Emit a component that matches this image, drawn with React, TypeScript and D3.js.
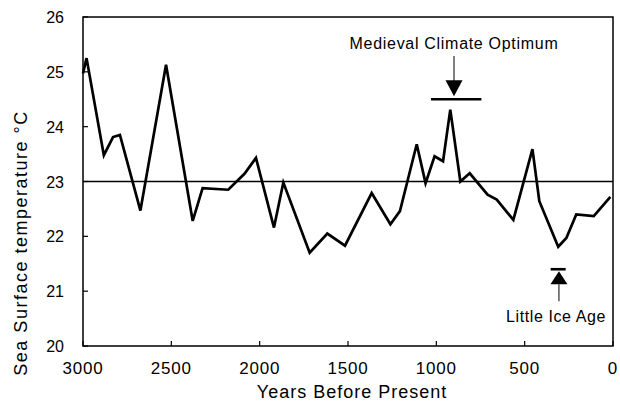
import React from "react";
import * as d3 from "d3";

const years = [3000, 2980, 2882, 2830, 2791, 2675, 2530, 2379, 2323, 2178, 2086, 2021, 1919, 1866, 1717, 1617, 1517, 1366, 1260, 1206, 1111, 1061, 1010, 962, 921, 864, 811, 710, 658, 564, 456, 417, 310, 264, 208, 109, 15];
const temps = [24.97, 25.25, 23.48, 23.81, 23.85, 22.47, 25.13, 22.28, 22.88, 22.85, 23.14, 23.43, 22.16, 22.98, 21.7, 22.05, 21.83, 22.79, 22.22, 22.46, 23.68, 22.97, 23.46, 23.37, 24.31, 23.0, 23.15, 22.76, 22.67, 22.3, 23.59, 22.64, 21.81, 21.97, 22.4, 22.37, 22.72];
const xTicks = [3000, 2500, 2000, 1500, 1000, 500, 0];
const yTicks = [20, 21, 22, 23, 24, 25, 26];
const meanTemp = 23;
const medieval = { label: "Medieval Climate Optimum", from: 1030, to: 745, temp: 24.5, at: 900 };
const littleIceAge = { label: "Little Ice Age", from: 353, to: 268, temp: 21.4, at: 306 };

const FONT = "Arial, 'Liberation Sans', Helvetica, sans-serif";

export default function App() {
  const x = d3.scaleLinear().domain([3000, 0]).range([83, 613]);
  const y = d3.scaleLinear().domain([20, 26]).range([346, 17]);
  const line = d3
    .line<number>()
    .x((_, i) => x(years[i]))
    .y((d) => y(d));
  const [x0, x1] = x.range();
  const [yb, yt] = y.range();

  const mx = x(medieval.at);
  const my = y(medieval.temp);
  const lx = x(littleIceAge.at);
  const ly = y(littleIceAge.temp);

  return (
    <svg width={620} height={409} style={{ position: "absolute", left: 0, top: 0, background: "#fff" }} fontFamily={FONT}>
      <rect x={0} y={0} width={620} height={409} fill="#fff" />
      {/* frame */}
      <rect x={x0} y={yt} width={x1 - x0} height={yb - yt} fill="none" stroke="#000" strokeWidth={1.5} />
      {/* mean line */}
      <line x1={x0} x2={x1} y1={y(meanTemp)} y2={y(meanTemp)} stroke="#000" strokeWidth={1.6} />
      {/* y ticks */}
      {yTicks.map((t) => (
        <g key={"y" + t}>
          <line x1={x0} x2={x0 + 5} y1={y(t)} y2={y(t)} stroke="#000" strokeWidth={1.2} />
          <text x={64} y={y(t) + 6} textAnchor="end" fontSize={16} fill="#000">
            {t}
          </text>
        </g>
      ))}
      {/* x ticks */}
      {xTicks.map((t) => (
        <g key={"x" + t}>
          <line x1={x(t)} x2={x(t)} y1={yb} y2={yb - 5} stroke="#000" strokeWidth={1.2} />
          <text x={x(t)} y={374} textAnchor="middle" fontSize={17} letterSpacing={0.8} fill="#000">
            {t}
          </text>
        </g>
      ))}
      {/* data line */}
      <path d={line(temps) || ""} fill="none" stroke="#000" strokeWidth={2.7} strokeLinejoin="miter" strokeMiterlimit={4} />
      {/* Medieval annotation */}
      <text x={mx} y={49} textAnchor="middle" fontSize={16} letterSpacing={0.7} fill="#000">
        {medieval.label}
      </text>
      <line x1={mx} x2={mx} y1={56} y2={my - 18} stroke="#000" strokeWidth={1} />
      <path d={`M${mx - 8.5},${my - 19}L${mx + 8.5},${my - 19}L${mx},${my - 3}Z`} fill="#000" />
      <line x1={x(medieval.from)} x2={x(medieval.to)} y1={my} y2={my} stroke="#000" strokeWidth={2.6} />
      {/* Little Ice Age annotation */}
      <line x1={x(littleIceAge.from)} x2={x(littleIceAge.to)} y1={ly} y2={ly} stroke="#000" strokeWidth={2.6} />
      <path d={`M${lx},${ly + 2}L${lx + 8.5},${ly + 15}L${lx - 8.5},${ly + 15}Z`} fill="#000" />
      <line x1={lx} x2={lx} y1={ly + 15} y2={ly + 32} stroke="#000" strokeWidth={1} />
      <text x={556} y={322} textAnchor="middle" fontSize={16} letterSpacing={0.6} fill="#000">
        {littleIceAge.label}
      </text>
      {/* axis titles */}
      <text x={352} y={398} textAnchor="middle" fontSize={18} letterSpacing={1} fill="#000">
        Years Before Present
      </text>
      <text transform={`translate(27,243) rotate(-90)`} textAnchor="middle" fontSize={18} letterSpacing={1.5} fill="#000">
        Sea Surface temperature °C
      </text>
    </svg>
  );
}
